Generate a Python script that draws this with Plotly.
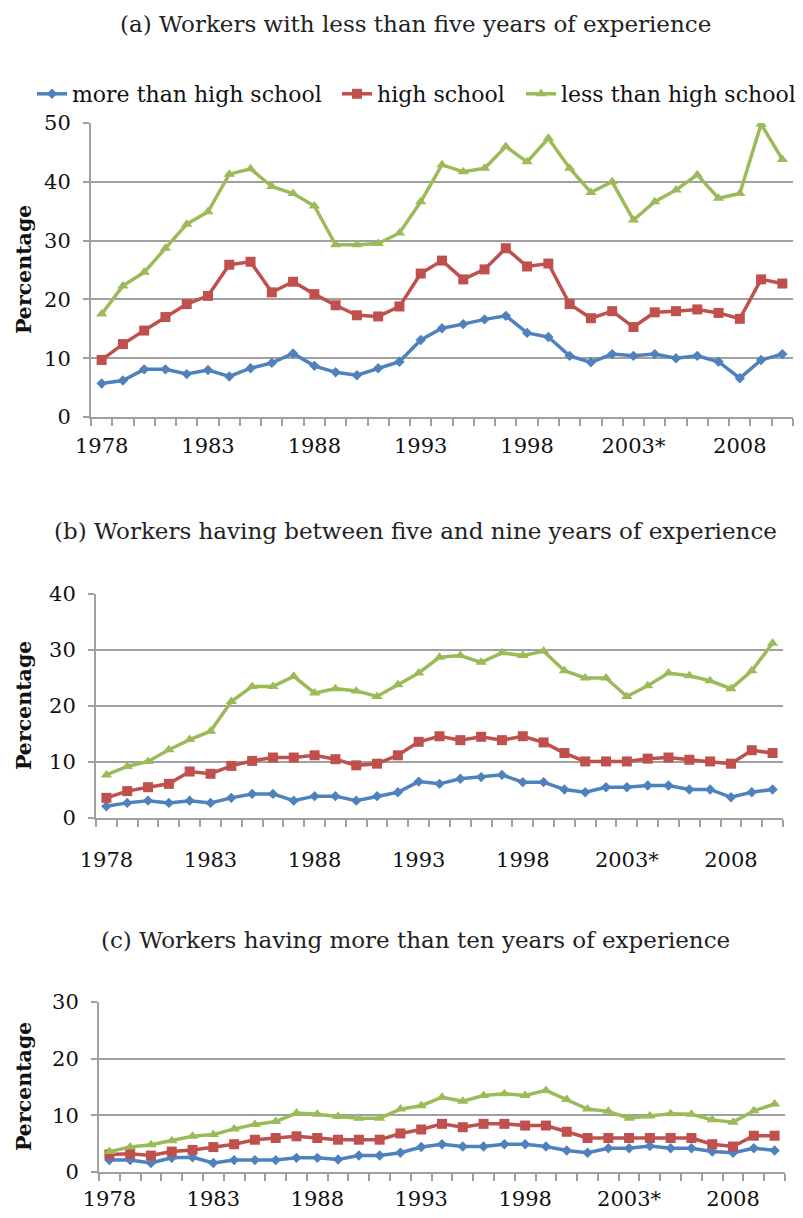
import plotly.graph_objects as go

years = [1978, 1979, 1980, 1981, 1982, 1983, 1984, 1985, 1986, 1987, 1988,
         1989, 1990, 1991, 1992, 1993, 1994, 1995, 1996, 1997, 1998, 1999,
         2000, 2001, 2002, 2003, 2004, 2005, 2006, 2007, 2008, 2009, 2010]
tick_years = [1978, 1983, 1988, 1993, 1998, 2003, 2008]
tick_labels = ["1978", "1983", "1988", "1993", "1998", "2003*", "2008"]

series_names = ["more than high school", "high school", "less than high school"]

# (a) less than five years of experience
a_more = [5.7, 6.2, 8.1, 8.1, 7.3, 8.0, 6.9, 8.3, 9.2, 10.8, 8.7,
          7.6, 7.1, 8.3, 9.4, 13.1, 15.1, 15.8, 16.6, 17.2, 14.3, 13.6,
          10.4, 9.3, 10.7, 10.4, 10.7, 10.0, 10.4, 9.4, 6.6, 9.7, 10.7]
a_high = [9.7, 12.4, 14.7, 17.0, 19.2, 20.6, 25.9, 26.4, 21.2, 23.0, 20.9,
          19.0, 17.3, 17.1, 18.8, 24.4, 26.6, 23.4, 25.1, 28.7, 25.6, 26.1,
          19.2, 16.8, 18.0, 15.3, 17.8, 18.0, 18.3, 17.7, 16.7, 23.4, 22.7]
a_less = [17.5, 22.3, 24.6, 28.7, 32.8, 34.9, 41.3, 42.2, 39.2, 38.0, 35.9,
          29.3, 29.3, 29.5, 31.3, 36.6, 42.9, 41.7, 42.3, 46.0, 43.4, 47.4,
          42.3, 38.2, 40.0, 33.5, 36.6, 38.6, 41.2, 37.2, 38.0, 49.8, 43.8]

# (b) between five and nine years of experience
b_more = [2.1, 2.7, 3.1, 2.7, 3.1, 2.7, 3.6, 4.3, 4.3, 3.1, 3.9,
          3.9, 3.1, 3.9, 4.6, 6.5, 6.1, 7.0, 7.3, 7.7, 6.4, 6.4,
          5.1, 4.6, 5.5, 5.5, 5.8, 5.8, 5.1, 5.1, 3.7, 4.6, 5.1]
b_high = [3.6, 4.8, 5.5, 6.1, 8.3, 7.9, 9.3, 10.2, 10.8, 10.8, 11.2,
          10.5, 9.4, 9.7, 11.2, 13.6, 14.6, 13.9, 14.5, 13.9, 14.6, 13.5,
          11.6, 10.1, 10.1, 10.1, 10.6, 10.8, 10.4, 10.1, 9.7, 12.1, 11.6]
b_less = [7.7, 9.2, 10.1, 12.2, 14.0, 15.5, 20.8, 23.5, 23.5, 25.3, 22.3,
          23.1, 22.7, 21.7, 23.8, 25.9, 28.7, 29.0, 27.8, 29.5, 29.0, 29.8,
          26.3, 25.0, 25.0, 21.7, 23.6, 25.9, 25.4, 24.5, 23.1, 26.3, 31.2]

# (c) more than ten years of experience
c_more = [2.1, 2.1, 1.6, 2.5, 2.6, 1.6, 2.1, 2.1, 2.1, 2.5, 2.5,
          2.2, 2.9, 2.9, 3.4, 4.4, 4.9, 4.5, 4.5, 4.9, 4.9, 4.5,
          3.8, 3.4, 4.2, 4.2, 4.6, 4.2, 4.2, 3.6, 3.4, 4.2, 3.8]
c_high = [3.1, 3.2, 2.9, 3.6, 3.9, 4.4, 4.9, 5.7, 6.0, 6.3, 6.0,
          5.7, 5.7, 5.7, 6.8, 7.5, 8.5, 7.9, 8.5, 8.5, 8.2, 8.2,
          7.1, 6.0, 6.0, 6.0, 6.0, 6.0, 6.0, 4.9, 4.5, 6.4, 6.4]
c_less = [3.6, 4.4, 4.8, 5.5, 6.3, 6.6, 7.6, 8.4, 8.9, 10.4, 10.2,
          9.8, 9.5, 9.5, 11.1, 11.7, 13.2, 12.5, 13.5, 13.8, 13.5, 14.4,
          12.8, 11.1, 10.7, 9.5, 9.9, 10.3, 10.2, 9.2, 8.8, 10.8, 12.0]

panel_titles = ["(a) Workers with less than five years of experience",
                "(b) Workers having between five and nine years of experience",
                "(c) Workers having more than ten years of experience"]
y_max = [50, 40, 30]
y_title = "Percentage"

W, H = 803, 1218
OFF = 8  # page body margin offset
FONT = "DejaVu Serif"
colors = ["#4F81BD", "#C0504D", "#9BBB59"]
symbols = ["diamond", "square", "triangle-up"]
msizes = [8, 10, 10]


def px(x):
    return (x - OFF) / W


def py(y):
    return 1 - (y - OFF) / H


# pixel layout of plot areas (page coords): (left, right, top, bottom)
boxes = [(91, 793, 123, 417), (96, 783, 594, 818), (99, 785, 1002, 1172)]
title_y = [24, 531, 940]
label_standoff = [9, 22, 7]

panels = [[a_more, a_high, a_less], [b_more, b_high, b_less], [c_more, c_high, c_less]]

fig = go.Figure()
for p, data in enumerate(panels):
    xa = "x" if p == 0 else f"x{p+1}"
    ya = "y" if p == 0 else f"y{p+1}"
    for s, vals in enumerate(data):
        fig.add_trace(go.Scatter(
            x=years, y=vals, mode="lines+markers", name=series_names[s],
            xaxis=xa, yaxis=ya,
            line=dict(color=colors[s], width=3.5),
            marker=dict(symbol=symbols[s], size=msizes[s], color=colors[s]),
            showlegend=(p == 0),
            legend=("legend" if s == 0 else f"legend{s+1}"),
        ))

layout = dict(
    width=W, height=H, margin=dict(l=0, r=0, t=0, b=0, pad=0, autoexpand=False),
    paper_bgcolor="white", plot_bgcolor="white",
    font=dict(family=FONT, size=20, color="#111"),
    annotations=[],
)
grid = "#A0A0A0"
for p in range(3):
    l, r, t, b = boxes[p]
    xk = "xaxis" if p == 0 else f"xaxis{p+1}"
    yk = "yaxis" if p == 0 else f"yaxis{p+1}"
    ya = "y" if p == 0 else f"y{p+1}"
    xa = "x" if p == 0 else f"x{p+1}"
    layout[xk] = dict(
        domain=[px(l), px(r)], anchor=ya, automargin=False,
        range=[years[0] - 0.5, years[-1] + 0.5],
        tickmode="array", tickvals=tick_years, ticktext=tick_labels,
        ticks="", showgrid=False, zeroline=False,
        showline=True, linecolor=grid, linewidth=2,
        ticklabelstandoff=label_standoff[p],
        tickfont=dict(family=FONT, size=21, color="#111"),
        minor=dict(tick0=years[0] - 0.5, dtick=1, ticks="outside",
                   ticklen=7, tickwidth=2, tickcolor=grid, showgrid=False),
    )
    layout[yk] = dict(
        domain=[py(b), py(t)], anchor=xa, automargin=False,
        range=[0, y_max[p]], dtick=10, tick0=0,
        showgrid=True, gridcolor=grid, gridwidth=2,
        zeroline=False, showline=True, linecolor=grid, linewidth=2,
        ticks="outside", ticklen=6, tickwidth=2, tickcolor=grid,
        ticklabelstandoff=8,
        tickfont=dict(family=FONT, size=21, color="#111"),
    )
    layout["annotations"].append(dict(
        text=panel_titles[p], xref="paper", yref="paper",
        x=px(415), y=py(title_y[p]), xanchor="center", yanchor="middle",
        showarrow=False, font=dict(family=FONT, size=23, color="#222")))
    layout["annotations"].append(dict(
        text="<b>" + y_title + "</b>", xref="paper", yref="paper",
        x=px(24), y=py((t + b) / 2), xanchor="center", yanchor="middle",
        textangle=-90, showarrow=False,
        font=dict(family=FONT, size=20.5, color="#111")))

leg_text_x = [72, 377, 561]
for s in range(3):
    key = "legend" if s == 0 else f"legend{s+1}"
    layout[key] = dict(
        x=px(leg_text_x[s] - 40), y=py(94), xanchor="left", yanchor="middle",
        orientation="h", bgcolor="rgba(0,0,0,0)",
        font=dict(family=FONT, size=22, color="#111"),
        itemwidth=30, tracegroupgap=0,
    )

fig.update_layout(**layout)
fig.write_html("out.html")
